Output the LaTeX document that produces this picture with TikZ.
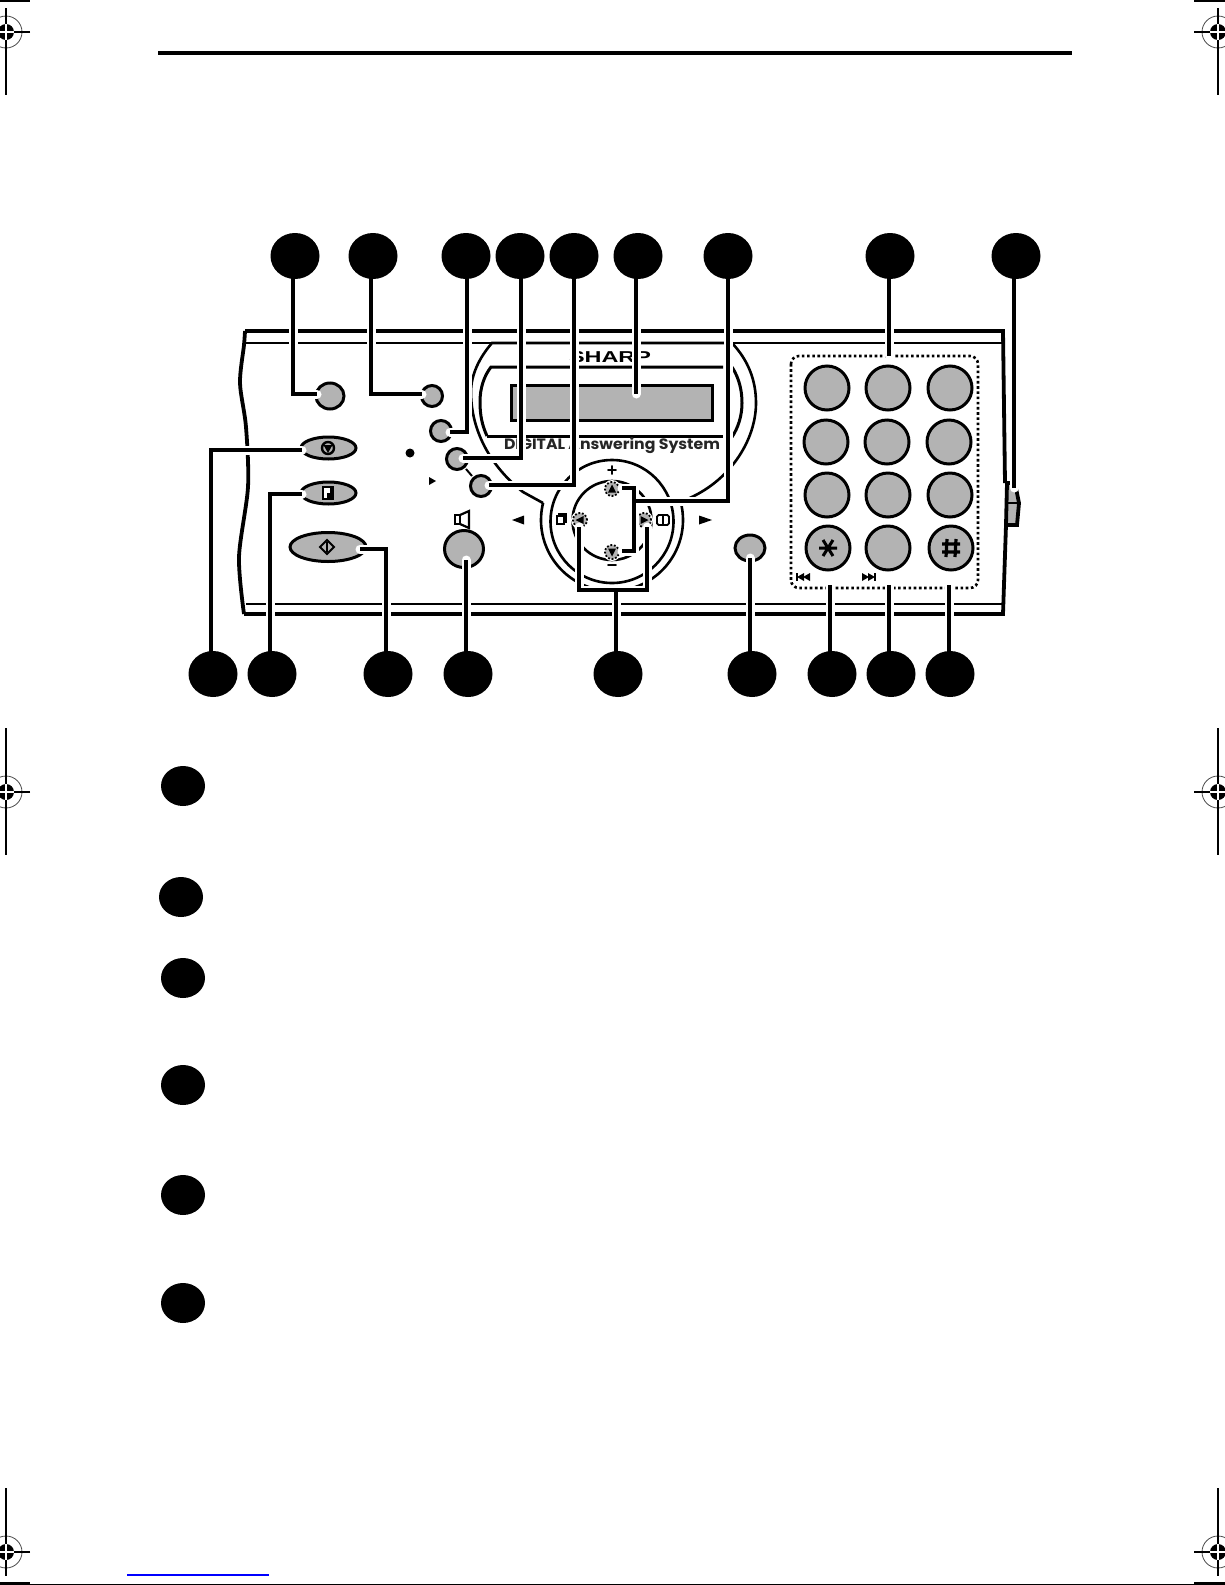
\documentclass[tikz,border=0pt]{standalone}
\usepackage{fontspec}
\usepackage{graphicx}
\usetikzlibrary{shapes.geometric}
\newfontfamily\sharpfont{Liberation Sans}
\newfontfamily\techfont{Poppins}
\definecolor{keygrey}{HTML}{B3B3B3}
\pgfdeclarelayer{fg}
\pgfsetlayers{main,fg}
\tikzset{
  bullet/.style={ellipse,fill=black,inner sep=0pt,minimum width=24.5pt,minimum height=23pt},
  sidebullet/.style={ellipse,fill=black,inner sep=0pt,minimum width=22pt,minimum height=20pt},
  btn/.style={ellipse,draw=black,fill=keygrey,line width=1.5pt,inner sep=0pt},
  keybtn/.style={btn,minimum width=22pt,minimum height=22pt},
  navbtn/.style={circle,draw=black,fill=keygrey,line width=.9pt,dash pattern=on .9pt off .9pt,inner sep=0pt,minimum size=7pt},
  lead/.style={preaction={draw=white,line width=4.5pt,line cap=round},draw=black,line width=2pt,line cap=butt,line join=miter},
  thickline/.style={draw=black,line width=1.9pt},
  thinline/.style={draw=black,line width=1.2pt},
  ringline/.style={draw=black,line width=1.3pt},
  iconline/.style={draw=black,line width=.9pt},
  regline/.style={draw=black,line width=.8pt}
}
\newcommand{\regmark}[5]{%
  \draw[black!70,line width=.4pt] (#1,#2) circle[radius=16];
  \fill[black] (#1,#2) circle[radius=8];
  \draw[regline] (#1,#3) -- (#1,#2-8);
  \draw[regline] (#1,#2+8) -- (#1,#4);
  \draw[regline] (#5,#2) -- (#1,#2);
  \draw[white,line width=.7pt] (#1-8,#2) -- (#1+8,#2) (#1,#2-8) -- (#1,#2+8);
}
\begin{document}
\begin{tikzpicture}[x=.5pt,y=-.5pt]
\useasboundingbox (0,0) rectangle (1225,1585);
\clip (0,0) rectangle (1225,1585);
\fill[white] (0,0) rectangle (1225,1585);
% page furniture
\draw[black,line width=2pt] (158,53) -- (1072,53);
\draw[black,line width=1pt] (0,.5) -- (30,.5) (1194,.5) -- (1225,.5);
\draw[black,line width=.8pt] (0,1584.3) -- (1225,1584.3);
\draw[black,line width=1.6pt] (0,1584) -- (30,1584) (1194,1584) -- (1225,1584);
\draw[blue,line width=.9pt] (127,1575) -- (269,1575);
\regmark{6}{32}{8}{95}{30}
\regmark{6}{792}{728}{855}{30}
\regmark{6}{1552}{1488}{1576}{30}
\regmark{1218}{32}{8}{95}{1194}
\regmark{1218}{792}{728}{855}{1194}
\regmark{1218}{1552}{1488}{1576}{1194}
% bullets (top layer)
\begin{pgfonlayer}{fg}
\node[bullet] (t1) at (295,256) {};
\node[bullet] (t2) at (373,256) {};
\node[bullet] (t3) at (466,256) {};
\node[bullet] (t4) at (520,256) {};
\node[bullet] (t5) at (574,256) {};
\node[bullet] (t6) at (638,256) {};
\node[bullet] (t7) at (728,256) {};
\node[bullet] (t8) at (890,256) {};
\node[bullet] (t9) at (1016,256) {};
\node[bullet] (q1) at (213,674) {};
\node[bullet] (q2) at (272,674) {};
\node[bullet] (q3) at (388,674) {};
\node[bullet] (q4) at (468,674) {};
\node[bullet] (q5) at (618,674) {};
\node[bullet] (q6) at (752,674) {};
\node[bullet] (q7) at (832,674) {};
\node[bullet] (q8) at (891,674) {};
\node[bullet] (q9) at (950,674) {};
\node[sidebullet] (s1) at (183,786) {};
\node[sidebullet] (s2) at (181,897) {};
\node[sidebullet] (s3) at (183,978) {};
\node[sidebullet] (s4) at (183,1085) {};
\node[sidebullet] (s5) at (183,1195) {};
\node[sidebullet] (s6) at (183,1303) {};
\end{pgfonlayer}
% body
\draw[thickline,line join=round] plot[smooth,tension=.5] coordinates {(245,331) (244,345) (240,383) (246,427) (248,487) (239,557) (244,614)};
\draw[thickline] (245,331) -- (1003,331) -- (1005,483);
\draw[thickline] (1006,525) -- (1003,614) -- (244,614);
\draw[thinline] (245,343) -- (1003,343);
\draw[thinline] (246,604) -- (1003,604);
% side switch
\draw[thickline,fill=keygrey,line join=miter] (1007,483) -- (1015,483) -- (1019,503) -- (1017,525) -- (1006,525) -- cycle;
\draw[black,line width=1pt] (1006,503) -- (1019,503);
% display bezel
\draw[ringline] (543,503) -- (523,492) .. controls (490,466) and (471,430) .. (471,392) .. controls (471,375) and (479,358) .. (492,343) -- (732,343) .. controls (748,360) and (756,380) .. (756,403) .. controls (756,440) and (730,482) .. (685,500);
\draw[thinline,line width=1.5pt] (487,436) .. controls (482,425) and (480,415) .. (480,402) .. controls (480,388) and (484,376) .. (491,367) -- (723,367);
\draw[thinline,line width=1.5pt] (487,436) -- (723,436);
\draw[thinline,line width=1.5pt] (732,367) .. controls (739,378) and (742,390) .. (742,403) .. controls (742,416) and (738,428) .. (732,437);
% display
\node[draw=black,fill=keygrey,line width=1.5pt,inner sep=0pt,minimum width=100.5pt,minimum height=17.5pt] (lcd) at (611.5,402.5) {};
\node[inner sep=0pt] (brand) at (610,357) {\resizebox{41pt}{5.5pt}{\sharpfont\bfseries SHARP}};
\node[inner sep=0pt,text=black!85] (dastext) at (612,446) {\resizebox{108pt}{6pt}{\techfont\bfseries DIGITAL Answering System}};
% navigation rings
\draw[ringline] plot[domain=-14:194,samples=80] ({612+71*cos(\x)},{520+71*sin(\x)});
\draw[ringline] (612,521.5) circle[radius=61.5];
\draw[ringline] (612,520.5) circle[radius=39.5];
\foreach \nx/\ny in {612/489,612/552,580/520,644/520}{\fill[white] (\nx,\ny) circle[radius=9];}
\node[navbtn] (nu) at (612,489) {};
\node[navbtn] (nd) at (612,552) {};
\node[navbtn] (nl) at (580,520) {};
\node[navbtn] (nr) at (644,520) {};
\fill[black] (612,484.5) -- (616,492.5) -- (608,492.5) -- cycle;
\fill[black] (612,556.5) -- (616,548.5) -- (608,548.5) -- cycle;
\fill[black] (575.5,520) -- (583.5,516) -- (583.5,524) -- cycle;
\fill[black] (648.5,520) -- (640.5,516) -- (640.5,524) -- cycle;
\node[inner sep=0pt] (plus) at (612,471) {\sharpfont\bfseries\fontsize{9}{9}\selectfont +};
\node[inner sep=0pt] (minus) at (612,568) {\sharpfont\bfseries\fontsize{9}{9}\selectfont −};
\fill[black] (512,520) -- (524,515.5) -- (524,524.5) -- cycle;
\fill[black] (712,520) -- (699,515.5) -- (699,524.5) -- cycle;
% copy and book icons
\draw[iconline] (559,516) -- (559,514) -- (566,514) -- (566,522) -- (564,522);
\draw[iconline] (557,516) rectangle (564,524);
\draw[iconline,rounded corners=.8pt] (657,525) -- (657,515) -- (663,515) -- (669,515) -- (669,525) -- (663,525) -- cycle;
\draw[iconline] (663,516) -- (663,525);
% small marks
\fill[black] (410,453) circle[radius=4.5];
\fill[black] (429,477) -- (436,481) -- (429,485) -- cycle;
\draw[black,line width=1pt] (466,469) -- (472,476);
% speaker icon
\draw[iconline,line width=1.1pt,line join=miter] (455,515) rectangle (460,524);
\draw[iconline,line width=1.1pt,line join=miter] (460,515) -- (469,511) -- (469,528) -- (460,524);
% keypad
\draw[black,line width=1.3pt,dash pattern=on 1.3pt off 1.3pt,rounded corners=4pt] (791,356) rectangle (978,588);
\node[keybtn] (k1) at (827,388) {};
\node[keybtn] (k2) at (888,388) {};
\node[keybtn] (k3) at (950,388) {};
\node[keybtn] (k4) at (826,442) {};
\node[keybtn] (k5) at (887,442) {};
\node[keybtn] (k6) at (949,442) {};
\node[keybtn] (k7) at (827,495) {};
\node[keybtn] (k8) at (888,495) {};
\node[keybtn] (k9) at (950,495) {};
\node[keybtn] (kstar) at (828,548) {};
\node[keybtn] (k0) at (888,548) {};
\node[keybtn] (khash) at (951,548) {};
\draw[black,line width=1.5pt] (819,548) -- (837,548) (823,540) -- (833,556) (833,540) -- (823,556);
\draw[black,line width=1.6pt] (947,539) -- (946,557) (956,539) -- (955,557) (942,544) -- (960,544) (942,552) -- (960,552);
\draw[black,line width=.7pt] (797,573) -- (797,581) (875,573) -- (875,581);
\fill[black] (797,577) -- (804,573) -- (804,581) -- cycle;
\fill[black] (803,577) -- (810,573) -- (810,581) -- cycle;
\fill[black] (869,577) -- (862,573) -- (862,581) -- cycle;
\fill[black] (875,577) -- (868,573) -- (868,581) -- cycle;
% buttons
\node[btn,minimum width=14pt,minimum height=13pt] (b1) at (330,396) {};
\node[btn,minimum width=10.5pt,minimum height=10.5pt] (b2) at (432,396) {};
\node[btn,minimum width=10.5pt,minimum height=10.5pt] (b3) at (441,431) {};
\node[btn,minimum width=10.5pt,minimum height=10.5pt] (b4) at (457,459) {};
\node[btn,minimum width=10.5pt,minimum height=10.5pt] (b5) at (481,486) {};
\node[btn,minimum width=27.5pt,minimum height=11pt] (e1) at (328.5,448) {};
\node[btn,minimum width=27.5pt,minimum height=11pt] (e2) at (328.5,493) {};
\node[btn,minimum width=38pt,minimum height=14.5pt] (e3) at (328,547) {};
\node[btn,minimum width=19.5pt,minimum height=18.5pt] (b6) at (464,549) {};
\node[btn,minimum width=15pt,minimum height=13pt] (b7) at (750,548) {};
% icons on buttons
\draw[black,line width=1.2pt] (328,448) circle[radius=6];
\fill[black] (323.5,445) -- (332.5,445) -- (328,453) -- cycle;
\draw[black,line width=.9pt,fill=white] (323,487) rectangle (333,499);
\fill[black] (327,493) rectangle (333,499);
\fill[black] (330,487) rectangle (333,499);
\draw[black,line width=1pt,line join=miter] (327,540) -- (334,547) -- (327,554) -- (320,547) -- cycle;
\draw[black,line width=.7pt] (327,542) -- (327,552);
% connector end points
\coordinate (p1) at (317,394);
\coordinate (p2) at (422,394);
\coordinate (p3) at (450,432);
\coordinate (p4) at (463,458);
\coordinate (p5) at (489,485);
\coordinate (p6) at (636,394);
\coordinate (j7) at (634,501);
\coordinate (up7) at (622,488);
\coordinate (dn7) at (622,551);
\coordinate (p8) at (889,356);
\coordinate (p9) at (1014,488);
\coordinate (r1) at (302,450);
\coordinate (r2) at (302,494);
\coordinate (r3) at (360,549);
\coordinate (r4) at (466,560);
\coordinate (j5) at (616,590);
\coordinate (l5) at (579,527);
\coordinate (m5) at (647,527);
\coordinate (r6) at (750,558);
\coordinate (r7) at (830,585);
\coordinate (r8) at (889,585);
\coordinate (r9) at (949,585);
% connectors
\draw[lead] ([xshift=-1pt]t1.center) |- (p1);
\draw[lead] ([xshift=-1pt]t2.center) |- (p2);
\draw[lead] ([xshift=.5pt]t3.center) |- (p3);
\draw[lead] ([xshift=.5pt]t4.center) |- (p4);
\draw[lead] (t5.center) |- (p5);
\draw[lead] ([xshift=-1pt]t6.center) -- (p6);
\draw[lead] (t7.center) |- (j7) (up7) -| (j7) |- (dn7);
\draw[lead] ([xshift=-.5pt]t8.center) -- (p8);
\draw[lead] ([xshift=-1pt]t9.center) -- (p9);
\draw[lead] ([xshift=-1pt]q1.center) |- (r1);
\draw[lead] ([xshift=-1pt]q2.center) |- (r2);
\draw[lead] ([xshift=-1pt]q3.center) |- (r3);
\draw[lead] ([xshift=-1pt]q4.center) -- (r4);
\draw[lead] ([xshift=-1pt]q5.center) -- (j5) (l5) |- (j5) -| (m5);
\draw[lead] ([xshift=-1pt]q6.center) -- (r6);
\draw[lead] ([xshift=-1pt]q7.center) -- (r7);
\draw[lead] ([xshift=-1pt]q8.center) -- (r8);
\draw[lead] ([xshift=-.5pt]q9.center) -- (r9);
\end{tikzpicture}
\end{document}
